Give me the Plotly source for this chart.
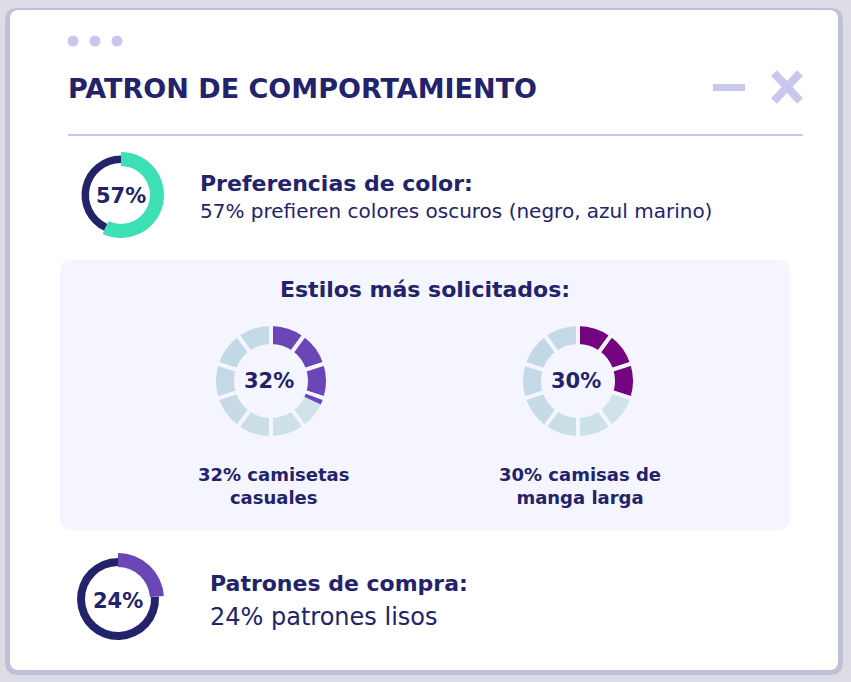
import plotly.graph_objects as go

W, H = 851, 682

# ---------------- data ----------------
title = "PATRON DE COMPORTAMIENTO"
color_pct = 57
color_head = "Preferencias de color:"
color_text = "57% prefieren colores oscuros (negro, azul marino)"
styles_head = "Estilos más solicitados:"
style_pcts = [32, 30]
style_labels = ["32% camisetas<br>casuales", "30% camisas de<br>manga larga"]
pattern_pct = 24
pattern_head = "Patrones de compra:"
pattern_text = "24% patrones lisos"
n_segments = 10

# ---------------- styles ----------------
NAVY = "#22236b"
GREEN = "#3ddfb4"
PURPLE = "#6b46b6"
MAGENTA = "#74047f"
LAV = "#c7c8ec"
PANEL = "#f5f5ff"
LIGHTS = ["#c6dbe6", "#c8dce7", "#cbdfe8", "#cfe3e8", "#cde1e8",
          "#c9dee7", "#c6dbe6", "#c4d9e6", "#c3d8e6", "#c4d9e6"]
FONT = "DejaVu Sans"


def dom(cx, cy, r):
    return dict(x=[(cx - r) / W, (cx + r) / W], y=[1 - (cy + r) / H, 1 - (cy - r) / H])


def rrect(x0, y0, x1, y1, r):
    return (f"M{x0+r},{y0} L{x1-r},{y0} Q{x1},{y0} {x1},{y0+r} L{x1},{y1-r} "
            f"Q{x1},{y1} {x1-r},{y1} L{x0+r},{y1} Q{x0},{y1} {x0},{y1-r} "
            f"L{x0},{y0+r} Q{x0},{y0} {x0+r},{y0} Z")


def ring(values, colors, cx, cy, r_out, r_in, rotation=0, lw=0, lc=None):
    return go.Pie(values=values, marker=dict(colors=colors,
                  line=dict(width=lw, color=lc if lc else "rgba(0,0,0,0)")),
                  hole=r_in / r_out, domain=dom(cx, cy, r_out), sort=False,
                  direction="clockwise", rotation=rotation, textinfo="none",
                  hoverinfo="skip", showlegend=False)


fig = go.Figure()

# invisible pixel axes for shapes/annotations
fig.add_trace(go.Scatter(x=[0, W], y=[0, H], mode="markers",
                         marker=dict(opacity=0), hoverinfo="skip", showlegend=False))

# --- donut 1: color preference ---
c1 = (121, 195)
fig.add_trace(ring([color_pct, 100 - color_pct], ["rgba(0,0,0,0)", NAVY], *c1, 39.5, 32))
fig.add_trace(ring([color_pct, 100 - color_pct], [GREEN, "rgba(0,0,0,0)"], *c1, 43, 29))

# --- segmented donuts ---
seg_centers = [(271, 381), (578, 381)]
seg_colors = [PURPLE, MAGENTA]
seg_size = 100 / n_segments
for pct, (cx, cy), col in zip(style_pcts, seg_centers, seg_colors):
    full = int(pct // seg_size)
    cols = [col if i < full else LIGHTS[i] for i in range(n_segments)]
    fig.add_trace(ring([seg_size] * n_segments, cols, cx, cy, 57, 35, lw=4, lc=PANEL))
    part = pct - full * seg_size
    if part > 0:
        gap = 0.6
        fig.add_trace(ring([gap, part - gap, 100 - part], ["rgba(0,0,0,0)", col, "rgba(0,0,0,0)"],
                           cx, cy, 55, 37, rotation=full * seg_size * 3.6))

# --- donut 3: pattern ---
c3 = (118, 599)
fig.add_trace(ring([pattern_pct, 100 - pattern_pct], ["rgba(0,0,0,0)", NAVY], *c3, 41, 33))
fig.add_trace(ring([pattern_pct, 100 - pattern_pct], [PURPLE, "rgba(0,0,0,0)"], *c3, 46, 32))

shapes = [
    dict(type="path", path=rrect(5, 8, 843, 675, 13), fillcolor="rgba(160,160,192,0.45)", line_width=0),
    dict(type="path", path=rrect(10, 10, 838, 670, 9), fillcolor="white", line_width=0),
    dict(type="path", path=rrect(60, 260, 790, 530, 12), fillcolor=PANEL, line_width=0),
    dict(type="line", x0=68, x1=803, y0=135, y1=135, line=dict(color=LAV, width=2)),
    dict(type="rect", x0=713, x1=745, y0=84, y1=91, fillcolor=LAV, line_width=0),
    dict(type="line", x0=774, y0=73, x1=800, y1=101, line=dict(color=LAV, width=8)),
    dict(type="line", x0=800, y0=73, x1=774, y1=101, line=dict(color=LAV, width=8)),
]
for dx in [73, 95, 117]:
    shapes.append(dict(type="circle", x0=dx - 5.5, x1=dx + 5.5, y0=35.5, y1=46.5,
                       fillcolor=LAV, line_width=0))
for s in shapes:
    s.update(xref="x", yref="y", layer="below")

ann = []


def text(x, y, t, size, xanchor="left", weight=700, color=NAVY):
    ann.append(dict(x=x, y=y, xref="x", yref="y", text=t, showarrow=False,
                    xanchor=xanchor, yanchor="middle", align="center",
                    font=dict(family=FONT, size=size, color=color, weight=weight)))


text(66, 88, title, 27)
text(c1[0], c1[1] + 1, f"{color_pct}%", 21, "center")
text(198, 183, color_head, 22)
text(198, 211, color_text, 20, weight=400)
text(425, 289, styles_head, 22, "center")
for pct, (cx, cy), lab in zip(style_pcts, seg_centers, style_labels):
    text(cx - 2, cy, f"{pct}%", 21, "center")
    text(cx + 2, 486, lab, 18, "center")
text(c3[0], c3[1] + 2, f"{pattern_pct}%", 21, "center")
text(208, 583, pattern_head, 22)
text(208, 617, pattern_text, 24, weight=400)

fig.update_layout(
    width=W, height=H, margin=dict(l=0, r=0, t=0, b=0),
    paper_bgcolor="#dcdce6", plot_bgcolor="rgba(0,0,0,0)",
    xaxis=dict(range=[0, W], visible=False, fixedrange=True, domain=[0, 1]),
    yaxis=dict(range=[H, 0], visible=False, fixedrange=True, domain=[0, 1]),
    shapes=shapes, annotations=ann, showlegend=False,
)

fig.write_html("out.html")
